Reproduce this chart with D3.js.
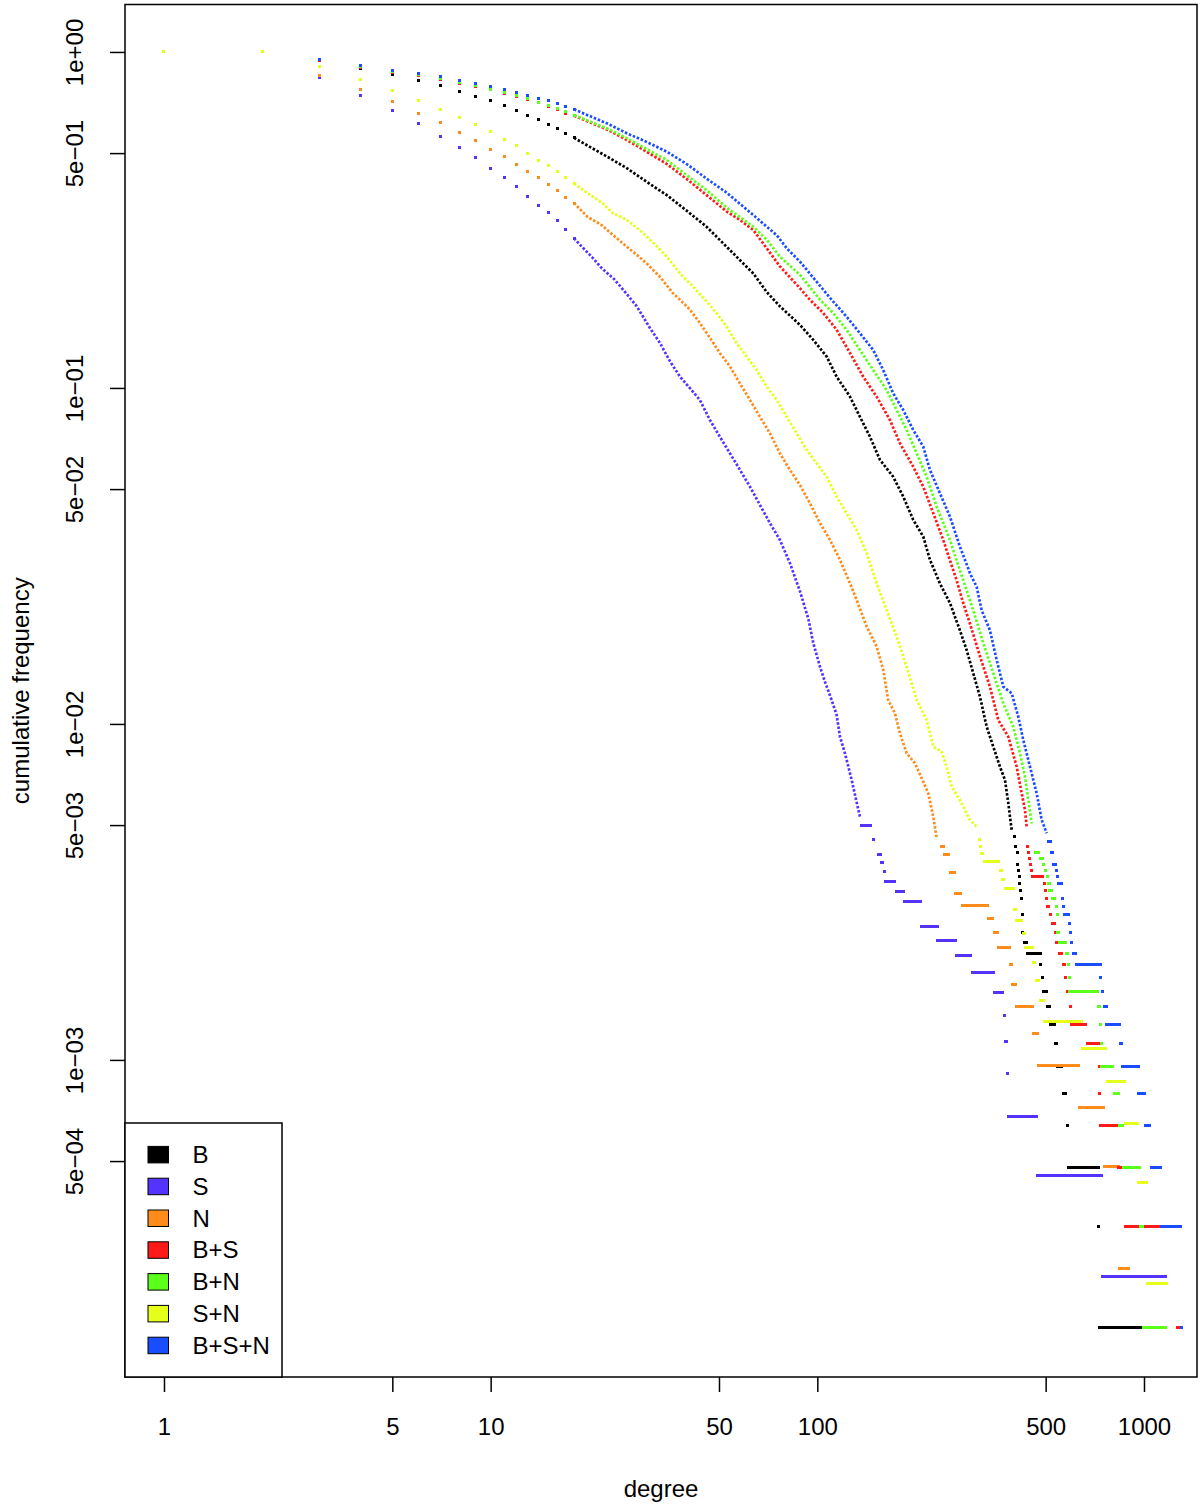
<!DOCTYPE html>
<html>
<head>
<meta charset="utf-8">
<script src="https://cdn.jsdelivr.net/npm/d3@7"></script>
<style>
  body { margin: 0; background: #fff; }
  svg text { font-family: "Liberation Sans", Arial, Helvetica, sans-serif; fill: #000; }
</style>
</head>
<body>
<svg id="chart" width="1200" height="1507"></svg>
<script>
// ---- data ----
const seriesNames = ["B", "S", "N", "B+S", "B+N", "S+N", "B+S+N"];
const seriesColors = ["#000000", "#5533FF", "#FF8C1A", "#FF1A1A", "#5CFF1A", "#E6FF1A", "#1A4DFF"];

const degreeTicks = [1, 5, 10, 50, 100, 500, 1000];
const freqTicks = [1, 0.5, 0.1, 0.05, 0.01, 0.005, 0.001, 0.0005];
const freqTickLabels = ["1e+00", "5e\u221201", "1e\u221201", "5e\u221202", "1e\u221202", "5e\u221203", "1e\u221203", "5e\u221204"];

// cumulative frequency at degree 1, 2, 3, ... 18
const headB   = [1, 1, 0.942, 0.890, 0.854, 0.824, 0.796, 0.764, 0.736, 0.716, 0.693, 0.671, 0.649, 0.629, 0.609, 0.590, 0.573, 0.555];
const headS   = [1, 1, 0.841, 0.741, 0.669, 0.612, 0.562, 0.520, 0.486, 0.449, 0.424, 0.397, 0.372, 0.350, 0.333, 0.314, 0.296, 0.279];
const headN   = [1, 1, 0.852, 0.771, 0.713, 0.658, 0.618, 0.577, 0.546, 0.512, 0.489, 0.463, 0.442, 0.423, 0.404, 0.386, 0.370, 0.355];
const headBS  = [1, 1, 0.943, 0.900, 0.870, 0.850, 0.829, 0.806, 0.788, 0.771, 0.753, 0.736, 0.721, 0.705, 0.689, 0.673, 0.658, 0.646];
const headBN  = [1, 1, 0.948, 0.904, 0.874, 0.854, 0.833, 0.810, 0.792, 0.775, 0.757, 0.740, 0.725, 0.708, 0.692, 0.677, 0.663, 0.649];
const headSN  = [1, 1, 0.907, 0.829, 0.767, 0.716, 0.675, 0.636, 0.609, 0.579, 0.550, 0.525, 0.497, 0.476, 0.458, 0.442, 0.424, 0.406];
const headBSN = [1, 1, 0.951, 0.909, 0.880, 0.860, 0.843, 0.822, 0.807, 0.788, 0.773, 0.759, 0.743, 0.728, 0.715, 0.704, 0.689, 0.675];

// [degree, cumulative frequency] along the dense middle part
const curveB = [[22.9,0.486],[26.1,0.451],[30.0,0.411],[34.6,0.375],[39.8,0.337],[45.8,0.302],[52.8,0.263],[58.0,0.240],[63.7,0.219],[70.0,0.193],[76.8,0.175],[88.5,0.154],[97.2,0.139],[106.8,0.124],[114.6,0.108],[125.9,0.0942],[135.0,0.0821],[144.9,0.0716],[155.5,0.0611],[170.7,0.0544],[183.2,0.0475],[196.6,0.0405],[211.0,0.0361],[221.2,0.0308],[237.3,0.0262],[254.7,0.0229],[273.2,0.0190],[286.4,0.0166],[300.1,0.01416],[314.7,0.01205],[329.9,0.00981],[345.6,0.00856],[362.3,0.00746],[375.4,0.00681],[384.2,0.00581],[388.8,0.00530],[393.5,0.00484]];
const curveS = [[18.9,0.265],[20.6,0.243],[21.9,0.227],[23.85,0.211],[25.8,0.193],[28.0,0.175],[30.7,0.151],[33.0,0.136],[35.4,0.120],[38.0,0.108],[40.75,0.0998],[43.7,0.0921],[46.9,0.0803],[50.3,0.0716],[54.0,0.0639],[58.0,0.0570],[62.2,0.0508],[66.7,0.0449],[71.6,0.0396],[76.8,0.0353],[82.45,0.0301],[88.5,0.0248],[93.8,0.0206],[97.2,0.0174],[101.9,0.0148],[105.5,0.01336],[110.6,0.01178],[114.6,0.01063],[117.3,0.00916],[121.5,0.00818],[127.4,0.00681],[130.4,0.00615],[135.0,0.00530]];
const curveN = [[19.8,0.323],[21.8,0.306],[23.7,0.285],[25.9,0.265],[28.0,0.249],[30.0,0.235],[33.0,0.214],[36.2,0.191],[38.0,0.183],[40.75,0.171],[43.7,0.156],[46.9,0.141],[50.3,0.127],[54.0,0.116],[58.0,0.103],[62.2,0.0921],[66.7,0.0821],[71.6,0.0733],[76.8,0.0639],[82.45,0.0570],[88.5,0.0514],[94.9,0.0454],[101.9,0.0396],[109.3,0.0353],[117.3,0.0308],[125.9,0.0262],[131.9,0.0234],[141.6,0.0195],[151.9,0.0170],[159.1,0.0145],[164.8,0.01178],[172.8,0.01076],[179.0,0.00938],[187.7,0.00818],[199.0,0.00764],[211.0,0.00673],[218.5,0.00622],[226.4,0.00530],[231.9,0.00457]];
const curveBS = [[22.9,0.586],[26.1,0.547],[30.0,0.505],[34.6,0.464],[39.8,0.419],[45.8,0.375],[52.8,0.335],[58.0,0.316],[63.7,0.295],[70.0,0.2605],[76.8,0.230],[88.5,0.198],[94.9,0.183],[104.3,0.167],[114.6,0.149],[125.9,0.127],[138.2,0.108],[151.9,0.0942],[166.8,0.0803],[179.0,0.0685],[196.6,0.0583],[211.0,0.0508],[226.4,0.0424],[242.9,0.0353],[251.6,0.0318],[266.9,0.0268],[279.6,0.0229],[293.2,0.0199],[314.7,0.0159],[337.6,0.01291],[358.0,0.01027],[384.2,0.00916],[407.6,0.00746],[422.2,0.00622],[432.2,0.00555],[437.4,0.00495]];
const curveBN = [[22.9,0.590],[26.1,0.554],[30.0,0.514],[34.6,0.477],[39.8,0.430],[45.8,0.388],[52.8,0.344],[58.0,0.322],[63.7,0.302],[70.0,0.276],[76.8,0.246],[88.5,0.217],[101.9,0.183],[111.9,0.167],[122.9,0.149],[135.0,0.1297],[148.3,0.1131],[163.0,0.0986],[174.9,0.0860],[187.7,0.0750],[201.4,0.0639],[216.1,0.0544],[231.9,0.0443],[254.7,0.0353],[268.6,0.0301],[279.6,0.0268],[300.1,0.0218],[322.1,0.0174],[345.6,0.01416],[370.9,0.01152],[397.9,0.00981],[417.2,0.00818],[432.2,0.00697],[442.4,0.00594],[453.1,0.00506]];
const curveSN = [[19.8,0.380],[21.9,0.356],[23.7,0.331],[25.9,0.318],[28.6,0.295],[31.5,0.270],[34.6,0.246],[38.0,0.219],[41.7,0.200],[45.3,0.183],[49.2,0.167],[52.8,0.152],[56.6,0.136],[60.8,0.124],[65.2,0.1131],[70.0,0.1009],[75.1,0.0921],[80.55,0.0821],[86.4,0.0733],[92.75,0.0654],[99.5,0.0597],[106.8,0.0544],[114.6,0.0475],[122.9,0.0424],[131.9,0.0378],[141.6,0.0322],[151.9,0.0262],[163.0,0.0218],[174.9,0.0182],[187.7,0.0148],[201.4,0.01178],[216.1,0.01027],[226.4,0.00856],[240.2,0.00827],[248.8,0.00746],[257.7,0.00650],[273.2,0.00594],[293.2,0.00518],[307.4,0.00495]];
const curveBSN = [[22.9,0.6105],[26.1,0.573],[30.0,0.540],[34.6,0.505],[39.8,0.464],[45.8,0.420],[52.8,0.381],[58.0,0.353],[63.7,0.327],[70.0,0.302],[75.1,0.285],[80.6,0.2605],[88.5,0.2376],[110.6,0.183],[122.9,0.163],[135.0,0.1455],[148.3,0.1297],[159.1,0.1131],[170.7,0.0964],[183.2,0.0860],[196.6,0.0750],[211.0,0.0669],[221.2,0.0570],[237.3,0.0486],[254.7,0.0414],[273.2,0.0337],[283.0,0.0308],[293.2,0.0281],[307.4,0.0256],[318.4,0.0218],[337.6,0.0190],[354.0,0.0155],[370.9,0.01291],[393.5,0.01234],[412.2,0.01051],[427.0,0.00896],[447.7,0.00746],[469.3,0.00622],[486.1,0.00518],[503.5,0.00473]];

// tail plateaus: [first degree, last degree, cumulative frequency]
const tailB = [[398,403,0.00463],[400,409,0.00431],[405,411,0.00415],[406,415,0.00383],[409,415,0.00367],[411,416,0.00351],[412,420,0.00335],[415,423,0.00319],[417,424,0.00303],[420,426,0.00271],[421,429,0.00240],[425,439,0.00224],[434,486,0.00208],[478,487,0.00192],[483,492,0.00176],[486,508,0.00160],[502,519,0.00144],[512,539,0.00128],[531,547,0.00112],[539,568,0.000958],[562,584,0.000798],[577,585,0.000639],[580,730,0.000479],[720,733,0.000319],[725,1111,0.000160]];
const tailS = [[135,147,0.00500],[147,150,0.00455],[152,157,0.00409],[156,160,0.00387],[159,161,0.00364],[160,174,0.00341],[173,185,0.00318],[183,209,0.00296],[206,235,0.00250],[231,267,0.00227],[264,298,0.00205],[295,350,0.00182],[346,375,0.00159],[371,377,0.00136],[373,383,0.00114],[377,384,0.000910],[380,473,0.000682],[467,747,0.000455],[737,1174,0.000227]];
const tailN = [[237,246,0.00433],[243,256,0.00409],[253,265,0.00361],[262,277,0.00313],[275,335,0.00288],[331,348,0.00264],[344,359,0.00240],[354,391,0.00216],[385,396,0.00192],[392,408,0.00168],[402,461,0.00144],[455,478,0.00120],[471,638,0.000962],[629,763,0.000721],[751,844,0.000481],[833,906,0.000240]];
const tailBS = [[436,445,0.00431],[439,448,0.00415],[442,450,0.00399],[444,452,0.00383],[449,458,0.00367],[451,494,0.00351],[490,501,0.00335],[494,504,0.00319],[498,507,0.00303],[501,517,0.00287],[513,524,0.00271],[520,539,0.00255],[531,542,0.00240],[535,548,0.00224],[544,565,0.00208],[561,577,0.00192],[570,582,0.00176],[578,588,0.00160],[588,595,0.00144],[594,671,0.00128],[663,733,0.00112],[722,735,0.000958],[723,740,0.000798],[728,834,0.000639],[825,855,0.000479],[870,1120,0.000319],[1253,1289,0.000160]];
const tailBN = [[460,479,0.00415],[477,495,0.00399],[488,498,0.00383],[493,504,0.00367],[501,511,0.00351],[506,522,0.00335],[508,525,0.00319],[519,537,0.00303],[533,544,0.00287],[537,548,0.00271],[538,552,0.00240],[545,580,0.00224],[574,591,0.00208],[580,594,0.00192],[585,594,0.00176],[587,730,0.00160],[718,737,0.00144],[728,745,0.00128],[735,751,0.00112],[735,813,0.000958],[802,844,0.000798],[831,869,0.000639],[855,977,0.000479],[965,1000,0.000319],[984,1174,0.000160]];
const tailSN = [[311,317,0.00454],[313,318,0.00433],[315,324,0.00411],[321,362,0.00390],[359,370,0.00368],[366,377,0.00346],[374,405,0.00325],[398,409,0.00281],[404,428,0.00260],[423,435,0.00238],[430,460,0.00216],[455,469,0.00195],[465,480,0.00173],[476,498,0.00151],[491,649,0.00130],[643,774,0.00108],[763,879,0.000866],[869,965,0.000649],[950,1026,0.000433],[1012,1182,0.000216]];
const tailBSN = [[504,522,0.00447],[515,528,0.00415],[524,544,0.00383],[535,545,0.00367],[539,548,0.00351],[543,565,0.00335],[558,569,0.00303],[561,570,0.00287],[564,594,0.00271],[585,595,0.00255],[588,602,0.00240],[594,606,0.00224],[601,622,0.00208],[615,742,0.00192],[730,745,0.00176],[737,754,0.00160],[747,772,0.00144],[761,850,0.00128],[840,861,0.00112],[849,970,0.000958],[954,1019,0.000798],[1002,1056,0.000639],[1043,1133,0.000479],[1120,1311,0.000319],[1290,1315,0.000160]];

const heads  = [headB, headS, headN, headBS, headBN, headSN, headBSN];
const curves = [curveB, curveS, curveN, curveBS, curveBN, curveSN, curveBSN];
const tails  = [tailB, tailS, tailN, tailBS, tailBN, tailSN, tailBSN];
// S+N sits on top of everything in the original
const drawOrder = [0, 1, 2, 3, 4, 6, 5];

// ---- layout ----
const svg = d3.select("#chart");
const box = { left: 125, right: 1197, top: 4.5, bottom: 1377 };
const dot = 3;
const bar = 2.5;

const x = d3.scaleLog().domain([0.7597, 1453]).range([box.left, box.right]);
const y = d3.scaleLog().domain([1.1384e-4, 1.3844]).range([box.bottom, box.top]);

const line = d3.line()
  .x(d => x(d[0]))
  .y(d => y(d[1]));

const plot = svg.append("g");

drawOrder.forEach(i => {
  const g = plot.append("g").attr("fill", seriesColors[i]);
  const head = heads[i].map((f, k) => [k + 1, f]);

  g.selectAll("rect.head")
    .data(head)
    .join("rect")
    .attr("class", "head")
    .attr("shape-rendering", "crispEdges")
    .attr("x", d => Math.round(x(d[0]) - dot / 2))
    .attr("y", d => Math.round(y(d[1]) - dot / 2))
    .attr("width", dot)
    .attr("height", dot);

  // the dense run of points, from the last single dot on
  g.append("path")
    .datum([head[head.length - 1]].concat(curves[i]))
    .attr("fill", "none")
    .attr("stroke", seriesColors[i])
    .attr("stroke-width", 2.7)
    .attr("stroke-dasharray", "2.5 1.8")
    .attr("d", line);

  g.selectAll("rect.tail")
    .data(tails[i])
    .join("rect")
    .attr("class", "tail")
    .attr("shape-rendering", "crispEdges")
    .attr("x", d => Math.round(x(d[0])))
    .attr("y", d => Math.round(y(d[2]) - bar / 2))
    .attr("width", d => Math.max(bar, x(d[1]) - x(d[0])))
    .attr("height", bar);
});

// ---- axes ----
const xAxis = svg.append("g")
  .attr("transform", `translate(0,${box.bottom})`)
  .call(d3.axisBottom(x).tickValues(degreeTicks).tickFormat(d3.format("d"))
    .tickSize(15).tickSizeOuter(0).tickPadding(26));
xAxis.select(".domain").remove();
xAxis.selectAll("line").attr("stroke", "#000").attr("stroke-width", 1.5);
xAxis.selectAll("text").attr("font-size", 24).attr("font-family", null);

const yAxis = svg.append("g")
  .attr("transform", `translate(${box.left},0)`)
  .call(d3.axisLeft(y).tickValues(freqTicks).tickFormat((d, i) => freqTickLabels[i])
    .tickSize(15).tickSizeOuter(0));
yAxis.select(".domain").remove();
yAxis.selectAll("line").attr("stroke", "#000").attr("stroke-width", 1.5);
yAxis.selectAll("text")
  .attr("font-size", 24)
  .attr("font-family", null)
  .attr("text-anchor", "middle")
  .attr("transform", "rotate(-90)")
  .attr("x", 0)
  .attr("y", -42)
  .attr("dy", null);

svg.append("rect")
  .attr("x", box.left).attr("y", box.top)
  .attr("width", box.right - box.left).attr("height", box.bottom - box.top)
  .attr("fill", "none").attr("stroke", "#000").attr("stroke-width", 1.5);

svg.append("text")
  .attr("x", (box.left + box.right) / 2).attr("y", 1497)
  .attr("text-anchor", "middle").attr("font-size", 24)
  .text("degree");

svg.append("text")
  .attr("transform", `translate(29,${(box.top + box.bottom) / 2}) rotate(-90)`)
  .attr("text-anchor", "middle").attr("font-size", 24)
  .text("cumulative frequency");

// ---- legend ----
const legend = svg.append("g");
legend.append("rect")
  .attr("x", 125).attr("y", 1123).attr("width", 157).attr("height", 254)
  .attr("fill", "#fff").attr("stroke", "#000").attr("stroke-width", 1.5);

const item = legend.selectAll("g.item")
  .data(seriesNames)
  .join("g")
  .attr("class", "item")
  .attr("transform", (d, i) => `translate(0,${1154.7 + i * 31.8})`);

item.append("rect")
  .attr("x", 148).attr("y", -8.3).attr("width", 20.5).attr("height", 16.5)
  .attr("fill", (d, i) => seriesColors[i])
  .attr("stroke", "#000").attr("stroke-width", 1);

item.append("text")
  .attr("x", 192.5).attr("y", 8.3)
  .attr("font-size", 24)
  .text(d => d);
</script>
</body>
</html>
